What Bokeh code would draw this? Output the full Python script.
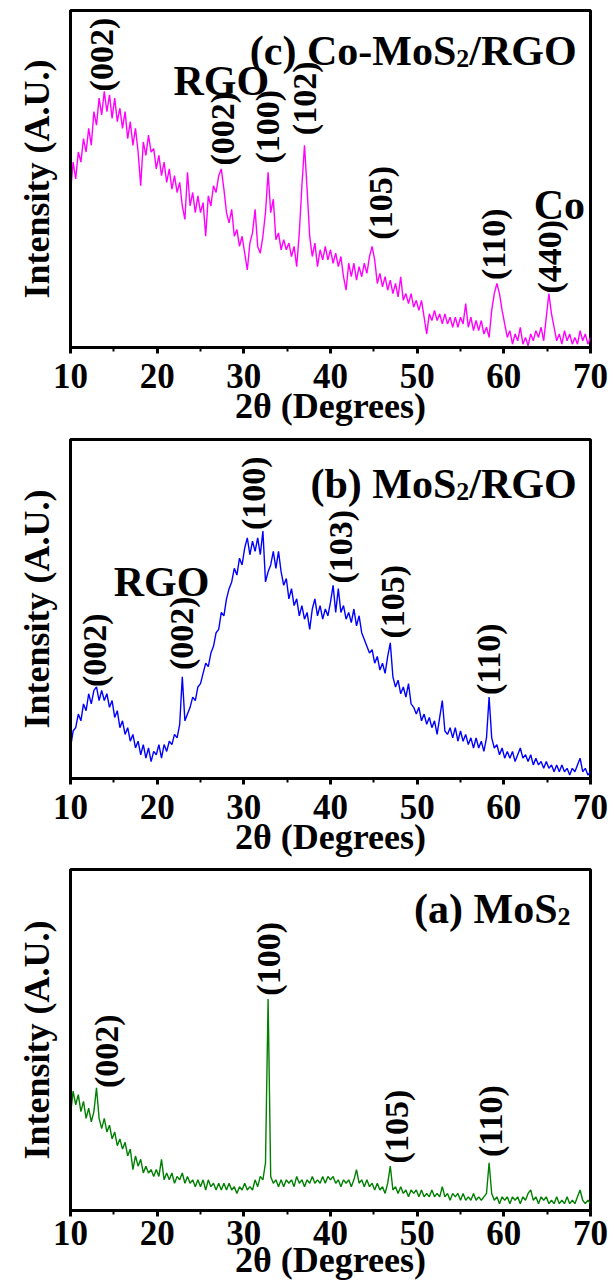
import numpy as np
from bokeh.plotting import figure
from bokeh.layouts import column
from bokeh.models import Range1d, SingleIntervalTicker, FixedTicker
from bokeh.core.properties import value
from bokeh.embed import file_html
from bokeh.resources import INLINE

# ---------------------------------------------------------------------------
# XRD patterns, sampled every 0.3 degrees of 2-theta (arbitrary intensity units)
# ---------------------------------------------------------------------------
TWO_THETA = np.linspace(10, 70, 201)

CO_MOS2_RGO = [
    46, 55, 50, 58, 55, 62, 58, 65, 60, 70,
    66, 74, 69, 76, 70, 75, 68, 74, 67, 71,
    65, 70, 62, 67, 60, 65, 58, 48, 61, 57,
    63, 58, 59, 53, 57, 51, 55, 49, 53, 47,
    51, 46, 49, 42, 38, 52, 42, 46, 40, 45,
    40, 43, 33, 45, 42, 48, 46, 51, 53, 47,
    40, 37, 41, 33, 35, 30, 33, 28, 23, 31,
    34, 41, 30, 28, 33, 40, 52, 40, 44, 32,
    34, 29, 32, 29, 31, 27, 30, 24, 34, 48,
    60, 47, 33, 27, 31, 24, 29, 26, 30, 26,
    29, 25, 28, 24, 27, 21, 17, 25, 21, 25,
    20, 24, 21, 25, 22, 27, 30, 26, 19, 22,
    18, 21, 17, 20, 16, 19, 15, 21, 14, 16,
    13, 16, 12, 14, 11, 14, 9, 4, 10, 8,
    11, 8, 10, 7, 10, 7, 9, 6, 9, 6,
    9, 7, 13, 6, 9, 5, 8, 5, 8, 4,
    6, 3, 11, 16, 19, 16, 11, 7, 3, 5,
    1, 4, 2, 6, 1, 3, 0.5, 4, 2, 5,
    3, 6, 2, 9, 16, 10, 6, 2, 4, 1,
    5, 2, 4, 1, 3, 1, 5, 2, 4, 1,
    3,
]

MOS2_RGO = [
    9, 14, 15, 19, 17, 22, 20, 25, 22, 26,
    27, 23, 26, 23, 25, 21, 23, 18, 20, 15,
    17, 13, 15, 11, 13, 9, 11, 7, 10, 6,
    9, 5, 8, 7, 10, 6, 10, 8, 11, 10,
    13, 12, 16, 30, 17, 19, 21, 24, 23, 27,
    28, 31, 34, 33, 37, 39, 43, 44, 49, 48,
    53, 56, 58, 62, 60, 65, 63, 68, 71, 66,
    70, 67, 71, 66, 73, 58, 61, 63, 67, 62,
    67, 61, 57, 59, 53, 56, 51, 53, 48, 51,
    47, 49, 44, 50, 53, 48, 51, 47, 50, 48,
    52, 57, 49, 56, 49, 51, 47, 49, 46, 50,
    45, 48, 43, 41, 39, 37, 38, 34, 36, 32,
    34, 31, 36, 40, 30, 27, 29, 25, 27, 24,
    28, 22, 21, 19, 21, 17, 19, 16, 18, 15,
    17, 13, 18, 23, 14, 13, 15, 12, 15, 11,
    14, 11, 13, 10, 12, 9, 12, 9, 11, 8,
    12, 24, 12, 9, 10, 7, 9, 6, 8, 6,
    8, 5, 7, 9, 6, 7, 5, 7, 4, 6,
    4, 5, 3, 5, 3, 4, 2, 4, 2, 4,
    2, 3, 1, 3, 2, 4, 6, 2, 3, 1,
    2,
]

MOS2 = [
    28, 35, 31, 34, 29, 32, 27, 30, 26, 29,
    36, 27, 24, 27, 23, 25, 21, 23, 19, 21,
    18, 20, 16, 18, 12, 16, 13, 15, 11, 13,
    11, 12, 10, 12, 10, 15, 9, 11, 9, 11,
    8, 10, 9, 11, 8, 10, 8, 9, 7, 9,
    7, 9, 6, 9, 7, 8, 6, 8, 6, 8,
    6, 8, 6, 7, 5, 7, 6, 8, 6, 7,
    6, 9, 7, 10, 9, 14, 62, 10, 8, 9,
    7, 9, 7, 9, 8, 9, 7, 10, 8, 9,
    7, 9, 8, 10, 8, 9, 8, 10, 8, 10,
    9, 10, 8, 9, 7, 9, 8, 9, 7, 9,
    12, 8, 9, 7, 9, 7, 8, 6, 8, 6,
    7, 5, 8, 13, 6, 7, 5, 7, 5, 6,
    4, 6, 5, 6, 4, 6, 4, 5, 4, 6,
    4, 5, 4, 7, 4, 5, 3, 5, 4, 5,
    3, 5, 3, 4, 3, 5, 3, 4, 3, 4,
    5, 14, 5, 3, 4, 2, 4, 3, 4, 2,
    4, 3, 4, 2, 4, 3, 5, 6, 3, 4,
    2, 4, 3, 4, 2, 3, 2, 4, 2, 3,
    2, 4, 2, 3, 2, 4, 6, 3, 2, 3,
    2,
]

# Indexed reflections: Miller indices, 2-theta position, height where the label starts
C_HKL = ["(002)", "(002)", "(100)", "(102)", "(105)", "(110)", "(440)"]
C_HKL_POS = [13.6, 27.5, 32.7, 37.0, 45.8, 58.8, 65.3]
C_HKL_BASE = [76, 54, 54.6, 63, 32, 20, 16]
C_PHASES = ["RGO", "Co"]
C_PHASE_POS = [27.4, 66.4]
C_PHASE_BASE = [79, 42.3]

B_HKL = ["(002)", "(002)", "(100)", "(103)", "(105)", "(110)"]
B_HKL_POS = [12.8, 22.8, 31.1, 41.2, 47.2, 58.2]
B_HKL_BASE = [27, 32, 73.3, 57.5, 41.3, 24.6]
B_PHASES = ["RGO"]
B_PHASE_POS = [20.5]
B_PHASE_BASE = [58]

A_HKL = ["(002)", "(100)", "(105)", "(110)"]
A_HKL_POS = [14.2, 32.9, 47.6, 58.5]
A_HKL_BASE = [35.9, 63, 13.8, 15.7]

X_TICK_STEP = 10
X_LABEL = "2θ (Degrees)"
Y_LABEL = "Intensity (A.U.)"

FONT = "Liberation Serif"

# Times-Bold advance widths (per 1000 em) used to lay out subscripted titles
TIMES_BOLD = {
    " ": 250, "(": 333, ")": 333, "-": 333, "/": 278, "2": 500,
    "a": 500, "b": 556, "c": 444, "o": 500,
    "C": 722, "G": 778, "M": 944, "O": 778, "R": 722, "S": 556,
}


def text_width(s, size):
    return sum(TIMES_BOLD.get(ch, 500) for ch in s) * size / 1000.0


def add_title(p, x_right, y_base, head, tail, size=42):
    """Draw 'head' + subscript 2 + 'tail', right-aligned at x_right."""
    sub = int(round(size * 0.62))
    common = dict(text_font=value(FONT), text_font_style="bold",
                  text_color="black", text_align="right",
                  text_baseline="alphabetic")
    off = 0.0
    if tail:
        p.text(x=[x_right], y=[y_base], text=[tail],
               text_font_size=f"{size}px", **common)
        off += text_width(tail, size)
    p.text(x=[x_right], y=[y_base], text=["2"], x_offset=-off,
           y_offset=round(size * 0.2), text_font_size=f"{sub}px", **common)
    off += text_width("2", sub)
    p.text(x=[x_right], y=[y_base], text=[head], x_offset=-off,
           text_font_size=f"{size}px", **common)


def add_hkl(p, labels, pos, base, size=34):
    p.text(x=pos, y=base, text=labels, angle=np.pi / 2,
           text_align="left", text_baseline="middle",
           text_font=value(FONT), text_font_style="bold",
           text_font_size=f"{size}px", text_color="black")


def add_phase(p, labels, pos, base, size=42):
    p.text(x=pos, y=base, text=labels, text_align="center",
           text_baseline="alphabetic", text_font=value(FONT),
           text_font_style="bold", text_font_size=f"{size}px",
           text_color="black")


def make_panel(intensity, color, height, top, bottom, tick_gap, label_gap):
    p = figure(width=614, height=height,
               x_range=Range1d(10, 70), y_range=Range1d(0, 100),
               output_backend="svg", toolbar_location=None,
               min_border_left=70, min_border_right=24,
               min_border_top=top, min_border_bottom=bottom)
    p.line(TWO_THETA, intensity, line_color=color, line_width=1.4)

    p.xgrid.visible = False
    p.ygrid.visible = False
    p.outline_line_color = "black"
    p.outline_line_width = 3
    p.outline_line_alpha = 1.0
    p.background_fill_color = "white"
    p.border_fill_color = "white"

    xa = p.xaxis[0]
    xa.ticker = SingleIntervalTicker(interval=X_TICK_STEP, num_minor_ticks=2)
    xa.axis_label = X_LABEL
    xa.axis_line_width = 3
    xa.major_tick_line_width = 3
    xa.major_tick_in = 0
    xa.major_tick_out = 6
    xa.minor_tick_line_width = 2
    xa.minor_tick_in = 0
    xa.minor_tick_out = 4
    xa.major_label_standoff = tick_gap
    xa.axis_label_standoff = label_gap
    xa.major_label_text_font = FONT
    xa.major_label_text_font_style = "bold"
    xa.major_label_text_font_size = "35px"
    xa.major_label_text_color = "black"
    xa.axis_label_text_font = FONT
    xa.axis_label_text_font_style = "bold"
    xa.axis_label_text_font_size = "36px"
    xa.axis_label_text_color = "black"

    ya = p.yaxis[0]
    ya.ticker = FixedTicker(ticks=[])
    ya.major_label_text_font_size = "0px"
    ya.major_tick_out = 0
    ya.minor_tick_out = 0
    ya.axis_line_width = 3
    ya.axis_label = Y_LABEL
    ya.axis_label_standoff = 14
    ya.axis_label_text_font = FONT
    ya.axis_label_text_font_style = "bold"
    ya.axis_label_text_font_size = "36px"
    ya.axis_label_text_color = "black"
    return p


# (c) Co-MoS2/RGO
pc = make_panel(CO_MOS2_RGO, "#ff00ff", 430, 10, 83, 10, -5)
add_hkl(pc, C_HKL, C_HKL_POS, C_HKL_BASE)
add_phase(pc, C_PHASES, C_PHASE_POS, C_PHASE_BASE)
add_title(pc, 68.4, 88, "(c) Co-MoS", "/RGO")

# (b) MoS2/RGO
pb = make_panel(MOS2_RGO, "#0000ff", 430, 9, 82, 10, -5)
add_hkl(pb, B_HKL, B_HKL_POS, B_HKL_BASE)
add_phase(pb, B_PHASES, B_PHASE_POS, B_PHASE_BASE)
add_title(pb, 68.4, 87, "(b) MoS", "/RGO")

# (a) MoS2
pa = make_panel(MOS2, "#008000", 423, 9, 73, 4, -8)
add_hkl(pa, A_HKL, A_HKL_POS, A_HKL_BASE)
add_title(pa, 67.7, 88.5, "(a) MoS", "")

layout = column(pc, pb, pa, spacing=0)

open("out.html", "w").write(file_html(layout, INLINE))
